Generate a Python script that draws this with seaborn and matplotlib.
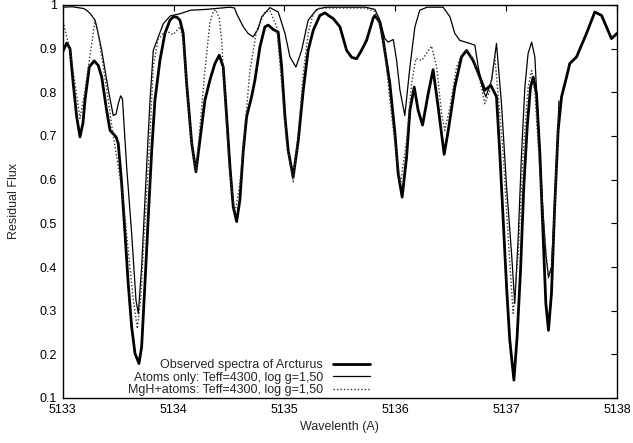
import matplotlib
matplotlib.use("Agg")
import matplotlib.pyplot as plt
import seaborn as sns
import pandas as pd
import numpy as np

# ---- data (wavelength offset from 5133 A, residual flux) ----
obs_dwl = [0.000, 0.037, 0.066, 0.095, 0.126, 0.156, 0.183, 0.201, 0.240, 0.284, 0.320,
           0.352, 0.396, 0.427, 0.456, 0.481, 0.501, 0.532, 0.562, 0.591, 0.622, 0.652, 0.688,
           0.712, 0.742, 0.772, 0.803, 0.832, 0.877, 0.922, 0.967, 0.998, 1.031, 1.058, 1.087,
           1.118, 1.164, 1.202, 1.238, 1.283, 1.328, 1.373, 1.412, 1.448, 1.479, 1.509, 1.538,
           1.569, 1.598, 1.629, 1.659, 1.704, 1.734, 1.779, 1.824, 1.854, 1.899, 1.944, 1.975,
           2.005, 2.034, 2.079, 2.125, 2.170, 2.214, 2.260, 2.320, 2.366, 2.403, 2.440, 2.501,
           2.561, 2.607, 2.651, 2.693, 2.741, 2.801, 2.816, 2.862, 2.891, 2.951, 2.997, 3.026,
           3.062, 3.102, 3.132, 3.171, 3.206, 3.246, 3.297, 3.341, 3.387, 3.441, 3.478, 3.537,
           3.597, 3.643, 3.702, 3.763, 3.808, 3.862, 3.913, 3.943, 3.973, 4.004, 4.033, 4.070,
           4.099, 4.130, 4.159, 4.190, 4.220, 4.244, 4.274, 4.304, 4.334, 4.358, 4.382, 4.409,
           4.439, 4.469, 4.500, 4.545, 4.574, 4.635, 4.725, 4.800, 4.861, 4.913, 4.950, 5.000]
obs_flux = [0.893, 0.913, 0.900, 0.820, 0.744, 0.698, 0.730, 0.782, 0.858, 0.872, 0.862,
            0.835, 0.759, 0.713, 0.705, 0.698, 0.683, 0.591, 0.477, 0.362, 0.263, 0.202, 0.179,
            0.217, 0.362, 0.515, 0.667, 0.782, 0.873, 0.935, 0.965, 0.973, 0.972, 0.965, 0.935,
            0.820, 0.683, 0.618, 0.690, 0.782, 0.828, 0.866, 0.885, 0.858, 0.744, 0.629, 0.538,
            0.504, 0.553, 0.667, 0.744, 0.790, 0.828, 0.904, 0.950, 0.954, 0.944, 0.938, 0.858,
            0.744, 0.667, 0.606, 0.690, 0.805, 0.896, 0.942, 0.976, 0.982, 0.975, 0.969, 0.950,
            0.896, 0.880, 0.877, 0.895, 0.919, 0.970, 0.976, 0.960, 0.919, 0.820, 0.706, 0.614,
            0.560, 0.652, 0.759, 0.812, 0.759, 0.725, 0.797, 0.852, 0.766, 0.658, 0.713, 0.812,
            0.881, 0.896, 0.873, 0.835, 0.805, 0.816, 0.790, 0.660, 0.507, 0.354, 0.232, 0.141,
            0.240, 0.393, 0.583, 0.721, 0.812, 0.835, 0.797, 0.660, 0.469, 0.317, 0.255, 0.340,
            0.545, 0.713, 0.790, 0.835, 0.866, 0.881, 0.935, 0.984, 0.976, 0.945, 0.923, 0.935]

atoms_dwl = [0.000, 0.086, 0.188, 0.216, 0.249, 0.292, 0.320, 0.352, 0.412, 0.456, 0.481, 0.501,
             0.523, 0.539, 0.577, 0.622, 0.661, 0.682, 0.712, 0.742, 0.772, 0.788, 0.817, 0.907,
             0.970, 1.058, 1.153, 1.299, 1.509, 1.550, 1.569, 1.629, 1.672, 1.718, 1.763, 1.795,
             1.869, 1.944, 2.005, 2.050, 2.104, 2.155, 2.214, 2.291, 2.373, 2.729, 2.816, 2.862,
             2.906, 2.936, 2.982, 3.012, 3.042, 3.086, 3.132, 3.177, 3.221, 3.287, 3.432, 3.493,
             3.537, 3.582, 3.673, 3.718, 3.748, 3.793, 3.817, 3.869, 3.913, 3.958, 4.004, 4.049,
             4.078, 4.109, 4.139, 4.169, 4.198, 4.230, 4.259, 4.288, 4.328, 4.358, 4.382, 4.409,
             4.439, 4.471, 4.476]
atoms_flux = [0.995, 0.996, 0.992, 0.988, 0.980, 0.965, 0.935, 0.896, 0.805, 0.747, 0.750, 0.774,
              0.792, 0.785, 0.629, 0.477, 0.324, 0.293, 0.400, 0.553, 0.706, 0.782, 0.896, 0.957,
              0.975, 0.980, 0.988, 0.990, 0.995, 0.993, 0.980, 0.950, 0.935, 0.927, 0.945, 0.973,
              0.994, 0.984, 0.935, 0.881, 0.858, 0.896, 0.965, 0.990, 0.995, 0.995, 0.990, 0.965,
              0.923, 0.915, 0.921, 0.873, 0.805, 0.747, 0.858, 0.950, 0.988, 0.995, 0.995, 0.973,
              0.935, 0.919, 0.912, 0.908, 0.858, 0.805, 0.790, 0.828, 0.912, 0.774, 0.583, 0.430,
              0.316, 0.469, 0.660, 0.812, 0.889, 0.915, 0.881, 0.736, 0.545, 0.430, 0.377, 0.400,
              0.545, 0.740, 0.780]

mgh_dwl = [0.000, 0.015, 0.066, 0.111, 0.156, 0.198, 0.231, 0.292, 0.320, 0.366, 0.412, 0.456,
           0.501, 0.547, 0.591, 0.637, 0.673, 0.703, 0.733, 0.763, 0.788, 0.817, 0.859, 0.907,
           0.952, 0.997, 1.058, 1.087, 1.118, 1.164, 1.202, 1.238, 1.283, 1.328, 1.358, 1.382,
           1.412, 1.434, 1.463, 1.502, 1.554, 1.598, 1.644, 1.689, 1.749, 1.824, 1.869, 1.930,
           1.975, 2.020, 2.079, 2.125, 2.170, 2.214, 2.260, 2.320, 2.729, 2.816, 2.862, 2.906,
           2.951, 2.997, 3.048, 3.102, 3.147, 3.186, 3.238, 3.282, 3.327, 3.373, 3.418, 3.447,
           3.493, 3.553, 3.597, 3.643, 3.702, 3.763, 3.808, 3.854, 3.898, 3.973, 4.018, 4.063,
           4.109, 4.153, 4.198, 4.230, 4.259, 4.304, 4.354, 4.382, 4.409, 4.439, 4.471, 4.476]
mgh_flux = [0.970, 0.950, 0.896, 0.820, 0.740, 0.800, 0.858, 0.965, 0.935, 0.858, 0.780, 0.700,
            0.630, 0.553, 0.438, 0.324, 0.259, 0.324, 0.462, 0.591, 0.706, 0.858, 0.920, 0.935,
            0.938, 0.932, 0.950, 0.920, 0.820, 0.683, 0.620, 0.720, 0.850, 0.960, 0.985, 0.989,
            0.970, 0.919, 0.782, 0.629, 0.523, 0.591, 0.721, 0.850, 0.942, 0.984, 0.988, 0.950,
            0.820, 0.683, 0.595, 0.706, 0.843, 0.935, 0.980, 0.993, 0.993, 0.985, 0.950, 0.896,
            0.782, 0.683, 0.591, 0.690, 0.820, 0.877, 0.873, 0.889, 0.906, 0.858, 0.751, 0.713,
            0.766, 0.858, 0.885, 0.898, 0.877, 0.828, 0.774, 0.805, 0.881, 0.660, 0.469, 0.294,
            0.430, 0.660, 0.812, 0.850, 0.800, 0.620, 0.450, 0.374, 0.400, 0.545, 0.740, 0.780]

wl0 = 5133.0
labels = ["Observed spectra of Arcturus",
          "Atoms only: Teff=4300, log g=1,50",
          "MgH+atoms: Teff=4300, log g=1,50"]
x_ticks = [5133, 5134, 5135, 5136, 5137, 5138]
y_ticks = [0.1, 0.2, 0.3, 0.4, 0.5, 0.6, 0.7, 0.8, 0.9, 1.0]
y_ticklabels = ["0.1", "0.2", "0.3", "0.4", "0.5", "0.6", "0.7", "0.8", "0.9", "1"]

# ---- build frames ----
df_obs = pd.DataFrame({"wl": wl0 + np.array(obs_dwl), "flux": obs_flux})
df_atm = pd.DataFrame({"wl": wl0 + np.array(atoms_dwl), "flux": atoms_flux})
df_mgh = pd.DataFrame({"wl": wl0 + np.array(mgh_dwl), "flux": mgh_flux})

sns.set_theme(style="white")
plt.rcParams["font.family"] = ["Liberation Sans", "DejaVu Sans"]

fig = plt.figure(figsize=(6.33, 4.43), dpi=100)
ax = fig.add_axes([62.7 / 633, 1 - 398 / 443, 554.3 / 633, 393 / 443])

sns.lineplot(data=df_obs, x="wl", y="flux", ax=ax, color="black", linewidth=2.0,
             estimator=None, label=labels[0])
sns.lineplot(data=df_atm, x="wl", y="flux", ax=ax, color="black", linewidth=0.9,
             estimator=None, label=labels[1])
sns.lineplot(data=df_mgh, x="wl", y="flux", ax=ax, color="#333333", linewidth=1.0,
             estimator=None, label=labels[2], linestyle=(0, (1.0, 1.5)))

ax.set_xlim(5133, 5138)
ax.set_ylim(0.1, 1.0)
ax.set_xticks(x_ticks)
ax.set_xticklabels([str(t) for t in x_ticks])
ax.set_yticks(y_ticks)
ax.set_yticklabels(y_ticklabels)
ax.tick_params(direction="in", length=4.5, width=0.8, top=True, right=True,
               labelsize=9, colors="black", pad=4)
for s in ax.spines.values():
    s.set_color("black")
    s.set_linewidth(1.0)

ax.set_xlabel("Wavelenth (A)", fontsize=9, labelpad=4)
ax.set_ylabel("Residual Flux", fontsize=9, labelpad=14)

leg = ax.legend(loc="lower right", bbox_to_anchor=(0.555, 0.004), frameon=False,
                markerfirst=False, fontsize=9, handlelength=3.0, handletextpad=0.8,
                labelspacing=0.05, borderpad=0, borderaxespad=0)

fig.savefig("out.png", dpi=100)
